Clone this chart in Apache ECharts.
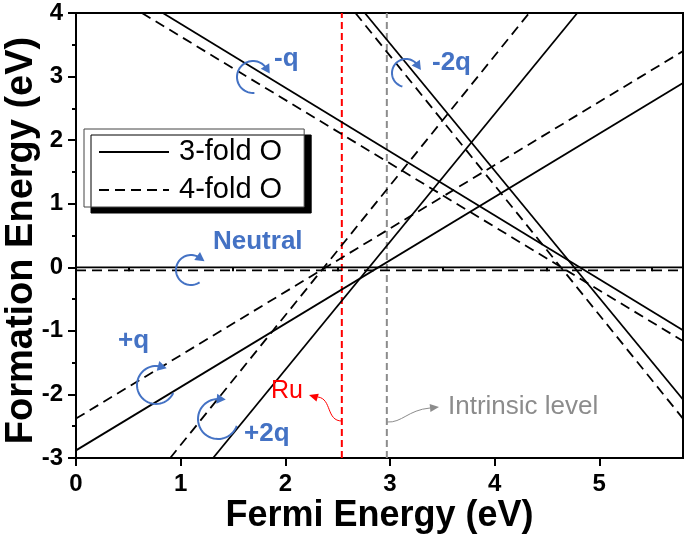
<!DOCTYPE html>
<html><head><meta charset="utf-8">
<script src="https://cdn.jsdelivr.net/npm/echarts@6/dist/echarts.min.js"></script>
<style>html,body{margin:0;padding:0;background:#fff}#c{width:685px;height:537px}</style>
</head><body><div id="c"></div>
<script>
// ---- data ----
const xTicks = [0, 1, 2, 3, 4, 5];
const xMinorTicks = [0.5, 1.5, 2.5, 3.5, 4.5, 5.5];
// 3-fold O (solid)
const neutral3 = [[0, 0], [5.8, 0]];
const plusQ3 = [[0, -2.88], [5.8, 2.9]];
const plus2Q3 = [[1.31, -3], [4.79, 4]];
const minusQ3 = [[0.83, 4], [5.8, -0.99]];
const minus2Q3 = [[2.76, 4], [5.8, -2.08]];
// 4-fold O (dashed)
const neutral4 = [[0, -0.05], [5.8, -0.05]];
const plusQ4 = [[0, -2.38], [5.8, 3.4]];
const plus2Q4 = [[0.9, -3], [4.33, 4]];
const minusQ4 = [[0.63, 4], [5.8, -1.16]];
const minus2Q4 = [[2.67, 4], [5.8, -2.38]];
// reference levels
const ruLevel = [[2.54, -3], [2.54, 4]];
const intrinsicLevel = [[2.97, -3], [2.97, 4]];

const FONT = '"Liberation Sans", Arial, sans-serif';
const BLUE = '#4472C4';

function solid(d) {
  return { type: 'line', name: '3-fold O', data: d, symbol: 'none', silent: true,
    lineStyle: { color: '#000', width: 1.8, type: 'solid' }, itemStyle: { color: '#000' }, z: 3 };
}
function dashed(d) {
  return { type: 'line', name: '4-fold O', data: d, symbol: 'none', silent: true,
    lineStyle: { color: '#000', width: 1.8, type: [10, 6] }, itemStyle: { color: '#000' }, z: 3 };
}
function vline(d, color) {
  return { type: 'line', name: 'level', data: d, symbol: 'none', silent: true,
    lineStyle: { color: color, width: 2, type: [7, 4] }, z: 2 };
}

// circular arrow builder (pixel space)
function circArrow(cx, cy, r, a0, a1) {
  const pts = [];
  const n = 40;
  for (let i = 0; i <= n; i++) {
    const t = (a0 + (a1 - a0) * i / n) * Math.PI / 180;
    pts.push([cx + r * Math.cos(t), cy + r * Math.sin(t)]);
  }
  const th = a1 * Math.PI / 180;
  const e = pts[pts.length - 1];
  const tx = -Math.sin(th), ty = Math.cos(th);
  const nx = Math.cos(th), ny = Math.sin(th);
  const tip = [e[0] + tx * 6, e[1] + ty * 6];
  const b1 = [e[0] - tx * 3 + nx * 5, e[1] - ty * 3 + ny * 5];
  const b2 = [e[0] - tx * 3 - nx * 5, e[1] - ty * 3 - ny * 5];
  return [
    { type: 'polyline', shape: { points: pts }, style: { stroke: BLUE, lineWidth: 2, fill: null }, z: 10 },
    { type: 'polygon', shape: { points: [tip, b1, b2] }, style: { fill: BLUE }, z: 10 }
  ];
}
function label(x, y, text, color, font) {
  return { type: 'text', x: x, y: y, z: 11,
    style: { text: text, fill: color, font: font, align: 'left', verticalAlign: 'middle' } };
}
function arrowHead(tip, dx, dy, color) {
  const l = Math.hypot(dx, dy); const tx = dx / l, ty = dy / l;
  const nx = -ty, ny = tx;
  return { type: 'polygon', z: 10, shape: { points: [tip,
    [tip[0] - tx * 9 + nx * 4, tip[1] - ty * 9 + ny * 4],
    [tip[0] - tx * 9 - nx * 4, tip[1] - ty * 9 - ny * 4]] }, style: { fill: color } };
}

const graphics = [].concat(
  circArrow(253, 77, 16, 85, 328),
  circArrow(406, 73, 14, 105, 325),
  circArrow(191, 270, 15, 55, 305),
  circArrow(156, 385, 19, 25, 285),
  circArrow(218, 419, 20, 20, 275),
  [
    label(274, 59, '-q', BLUE, 'bold 26px ' + FONT),
    label(432, 63, '-2q', BLUE, 'bold 26px ' + FONT),
    label(213, 242, 'Neutral', BLUE, 'bold 26px ' + FONT),
    label(118, 341, '+q', BLUE, 'bold 26px ' + FONT),
    label(244, 434, '+2q', BLUE, 'bold 26px ' + FONT),
    label(271, 391, 'Ru', '#FF0000', '25px ' + FONT),
    label(448, 407, 'Intrinsic level', '#8C8C8C', '26px ' + FONT),
    { type: 'bezierCurve', z: 10, shape: { x1: 342, y1: 421, x2: 318, y2: 397, cpx1: 326, cpy1: 421, cpx2: 332, cpy2: 399 },
      style: { stroke: '#FF0000', lineWidth: 1, fill: null } },
    arrowHead([309, 395], -1, -0.3, '#FF0000'),
    { type: 'bezierCurve', z: 10, shape: { x1: 387, y1: 422, x2: 430, y2: 408, cpx1: 402, cpy1: 423, cpx2: 408, cpy2: 410 },
      style: { stroke: '#8C8C8C', lineWidth: 1, fill: null } },
    arrowHead([439, 407], 1, -0.1, '#8C8C8C')
  ]
);

const chart = echarts.init(document.getElementById('c'), null, { renderer: 'canvas' });
chart.setOption({
  animation: false,
  backgroundColor: '#fff',
  grid: { left: 76, right: 2, top: 13, bottom: 79, show: true, borderColor: '#000', borderWidth: 2,
    backgroundColor: 'transparent', containLabel: false, outerBoundsMode: 'none' },
  legend: {
    data: ['3-fold O', '4-fold O'], orient: 'vertical', left: 84, top: 129,
    padding: [8, 22, 2, 14], itemWidth: 70, itemHeight: 14, itemGap: 8,
    backgroundColor: '#fff', borderColor: '#444', borderWidth: 1,
    shadowColor: '#000', shadowBlur: 0, shadowOffsetX: 7, shadowOffsetY: 6,
    itemStyle: { opacity: 0, borderWidth: 0 },
    textStyle: { fontSize: 29, fontFamily: FONT, color: '#000', lineHeight: 30, padding: [0, 0, 0, 5] },
    selectedMode: false
  },
  xAxis: [{
    type: 'value', min: 0, max: 5.8, interval: 1, position: 'bottom',
    axisLine: { show: true, onZero: false, lineStyle: { color: '#000', width: 2 } },
    axisTick: { show: true, customValues: xTicks, length: 8, lineStyle: { color: '#000', width: 2 } },
    axisLabel: { customValues: xTicks, fontSize: 24, fontWeight: 'bold', fontFamily: FONT, color: '#000', margin: 14 },
    splitLine: { show: false },
    name: 'Fermi Energy (eV)', nameLocation: 'middle', nameGap: 40, nameMoveOverlap: false,
    nameTextStyle: { fontSize: 36, fontWeight: 'bold', fontFamily: FONT, color: '#000' }
  }, {
    type: 'value', min: 0, max: 5.8, interval: 0.5, position: 'bottom',
    axisLine: { show: false },
    axisTick: { show: true, customValues: xMinorTicks, length: 4, lineStyle: { color: '#000', width: 2 } },
    axisLabel: { show: false }, splitLine: { show: false }
  }],
  yAxis: {
    type: 'value', min: -3, max: 4, interval: 1,
    axisLine: { show: true, onZero: false, lineStyle: { color: '#000', width: 2 } },
    axisTick: { show: true, length: 8, lineStyle: { color: '#000', width: 2 } },
    minorTick: { show: true, splitNumber: 2, length: 4, lineStyle: { color: '#000', width: 2 } },
    axisLabel: { fontSize: 24, fontWeight: 'bold', fontFamily: FONT, color: '#000', margin: 13 },
    splitLine: { show: false },
    name: 'Formation Energy (eV)', nameLocation: 'middle', nameGap: 35, nameRotate: 90, nameMoveOverlap: false,
    nameTextStyle: { fontSize: 38, fontWeight: 'bold', fontFamily: FONT, color: '#000', padding: [0, 10, 0, 0] }
  },
  series: [
    vline(ruLevel, '#FF0000'), vline(intrinsicLevel, '#8C8C8C'),
    solid(neutral3), solid(plusQ3), solid(plus2Q3), solid(minusQ3), solid(minus2Q3),
    dashed(neutral4), dashed(plusQ4), dashed(plus2Q4), dashed(minusQ4), dashed(minus2Q4)
  ],
  graphic: graphics
});
</script>
</body></html>
